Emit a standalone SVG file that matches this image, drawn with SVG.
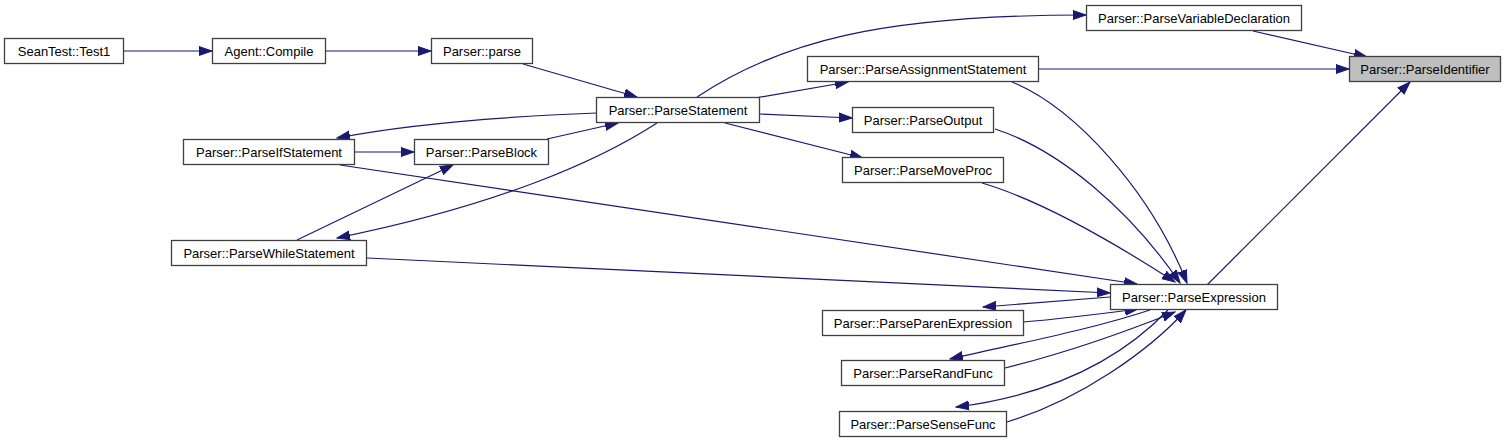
<svg xmlns="http://www.w3.org/2000/svg" width="1507" height="443" viewBox="0 0 1507 443">
<style>
.n rect{fill:#ffffff;stroke:#404040;stroke-width:1.3}
.n text{font-family:"Liberation Sans",Arial,sans-serif;font-size:13px;fill:#000000;text-anchor:middle}
#n_identifier rect{fill:#bfbfbf}
.e path{fill:none;stroke:#191970;stroke-width:1.2;marker-end:url(#ah)}
</style>
<defs>
<marker id="ah" markerUnits="userSpaceOnUse" markerWidth="14" markerHeight="11" viewBox="0 -5.5 14 11" refX="13" refY="0" orient="auto">
<path d="M0,-4.5 L13,0 L0,4.5 z" fill="#191970" stroke="#191970" stroke-width="1"/>
</marker>
</defs>
<rect width="1507" height="443" fill="#ffffff"/>
<g id="connectors" class="e">
<path d="M124,51 L212,51"/>
<path d="M326,51 L431,51"/>
<path d="M523,64 L637,97"/>
<path d="M597,113 C520,116 420,122 337,138"/>
<path d="M355,152 L414,152"/>
<path d="M547,139 L618,123"/>
<path d="M657,123 C600,160 500,205 337,238"/>
<path d="M297,240 L453,165"/>
<path d="M697,97 C780,42 880,15 1086,15"/>
<path d="M755,98 L848,82"/>
<path d="M760,114 L852,118"/>
<path d="M725,123 L863,158"/>
<path d="M1253,31 L1367,57"/>
<path d="M1039,69 L1349,69"/>
<path d="M1207,285 L1410,82"/>
<path d="M1012,82 C1075,108 1150,190 1187,283"/>
<path d="M995,129 C1060,150 1130,210 1180,283"/>
<path d="M982,183 C1040,200 1110,240 1175,282"/>
<path d="M340,165 L1137,284"/>
<path d="M367,258 L1110,293"/>
<path d="M1110,297 C1070,300 1030,303 983,307"/>
<path d="M1023,322 C1060,319 1100,314 1138,309"/>
<path d="M1150,310 C1090,330 1010,345 950,359"/>
<path d="M1005,368 C1070,352 1130,330 1175,312"/>
<path d="M1168,310 C1120,360 1050,395 956,407"/>
<path d="M1007,422 C1080,400 1150,350 1186,310"/>
</g>
<g id="n_test1" class="n"><rect x="4.5" y="38.5" width="119" height="25"/><text x="64" y="55.5">SeanTest::Test1</text></g>
<g id="n_compile" class="n"><rect x="212.5" y="38.5" width="113" height="25"/><text x="269" y="55.5">Agent::Compile</text></g>
<g id="n_parse" class="n"><rect x="431.5" y="38.5" width="101" height="25"/><text x="482" y="55.5">Parser::parse</text></g>
<g id="n_statement" class="n"><rect x="596.5" y="97.5" width="163" height="25"/><text x="678" y="114.5">Parser::ParseStatement</text></g>
<g id="n_if" class="n"><rect x="183.5" y="139.5" width="171" height="25"/><text x="269" y="156.5">Parser::ParseIfStatement</text></g>
<g id="n_block" class="n"><rect x="414.5" y="139.5" width="134" height="25"/><text x="481.5" y="156.5">Parser::ParseBlock</text></g>
<g id="n_while" class="n"><rect x="171.5" y="240.5" width="195" height="25"/><text x="269" y="257.5">Parser::ParseWhileStatement</text></g>
<g id="n_vardecl" class="n"><rect x="1086.5" y="5.5" width="215" height="25"/><text x="1194" y="22.5">Parser::ParseVariableDeclaration</text></g>
<g id="n_assign" class="n"><rect x="807.5" y="56.5" width="231" height="25"/><text x="923" y="73.5">Parser::ParseAssignmentStatement</text></g>
<g id="n_output" class="n"><rect x="852.5" y="107.5" width="141" height="25"/><text x="923" y="124.5">Parser::ParseOutput</text></g>
<g id="n_moveproc" class="n"><rect x="842.5" y="157.5" width="161" height="25"/><text x="923" y="174.5">Parser::ParseMoveProc</text></g>
<g id="n_identifier" class="n"><rect x="1349.5" y="56.5" width="151" height="25"/><text x="1425" y="73.5">Parser::ParseIdentifier</text></g>
<g id="n_expression" class="n"><rect x="1110.5" y="284.5" width="167" height="25"/><text x="1194" y="301.5">Parser::ParseExpression</text></g>
<g id="n_paren" class="n"><rect x="822.5" y="310.5" width="201" height="25"/><text x="923" y="327.5">Parser::ParseParenExpression</text></g>
<g id="n_rand" class="n"><rect x="841.5" y="360.5" width="163" height="25"/><text x="923" y="377.5">Parser::ParseRandFunc</text></g>
<g id="n_sense" class="n"><rect x="839.5" y="411.5" width="167" height="25"/><text x="923" y="428.5">Parser::ParseSenseFunc</text></g>
</svg>
